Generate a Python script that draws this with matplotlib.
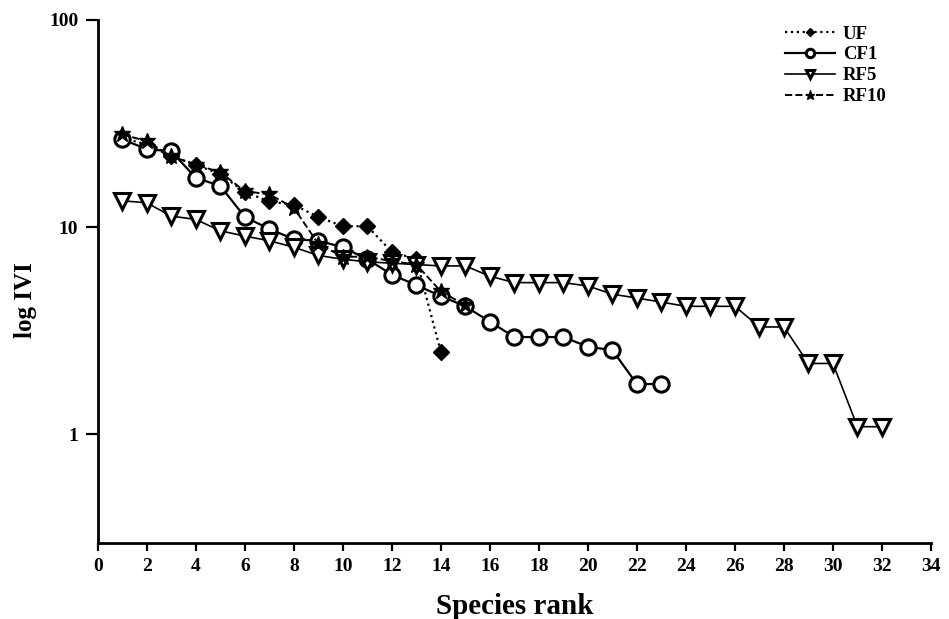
import numpy as np
import matplotlib
matplotlib.use('Agg')
import matplotlib.pyplot as plt
from matplotlib.ticker import FixedLocator, NullLocator

# ── datos ──
rank_uf = [1, 2, 3, 4, 5, 6, 7, 8, 9, 10, 11, 12, 13, 14]
ivi_uf = [27, 25, 22, 20, 18, 14.8, 13.3, 12.8, 11.2, 10.1, 10.1, 7.6, 7.0, 2.5]

rank_cf1 = list(range(1, 24))
ivi_cf1 = [26.5, 23.8, 23.2, 17.3, 15.8, 11.2, 9.8, 8.75, 8.6, 8.0, 7.0, 5.9,
           5.25, 4.65, 4.15, 3.5, 2.95, 2.95, 2.95, 2.65, 2.55, 1.75, 1.75]

rank_rf5 = list(range(1, 33))
ivi_rf5 = [13.4, 13.1, 11.3, 10.9, 9.6, 9.05, 8.6, 8.0, 7.3, 7.0, 6.8, 6.7,
           6.6, 6.5, 6.5, 5.8, 5.4, 5.4, 5.4, 5.2, 4.75, 4.55, 4.35, 4.15,
           4.15, 4.15, 3.3, 3.3, 2.2, 2.2, 1.09, 1.09]

rank_rf10 = list(range(1, 16))
ivi_rf10 = [28, 26, 22, 20, 18.4, 14.9, 14.4, 12.4, 8.3, 7.2, 7.2, 6.85,
            6.6, 4.9, 4.2]

x_ticks = list(range(0, 35, 2))
y_ticks = [1, 10, 100]

plt.rcParams['font.family'] = ['Liberation Serif', 'DejaVu Serif']
plt.rcParams['font.weight'] = 'bold'

fig = plt.figure(figsize=(9.49, 6.19), dpi=100)
ax = fig.add_axes([0.103, 0.123, 0.878, 0.845])

ax.plot(rank_uf, ivi_uf, color='black', linestyle=':', linewidth=1.6,
        marker='D', markersize=8, markerfacecolor='black', label='UF')
ax.plot(rank_cf1, ivi_cf1, color='black', linestyle='-', linewidth=1.6,
        marker='o', markersize=11, markerfacecolor='white',
        markeredgewidth=2.2, label='CF1')
ax.plot(rank_rf5, ivi_rf5, color='black', linestyle='-', linewidth=1.2,
        marker='v', markersize=11.5, markerfacecolor='white',
        markeredgewidth=2.2, label='RF5')
ax.plot(rank_rf10, ivi_rf10, color='black', linestyle='--', linewidth=1.4,
        marker='*', markersize=12, markerfacecolor='black', label='RF10')

ax.set_yscale('log')
ax.set_ylim(0.3, 100)
ax.set_xlim(0, 34)
ax.xaxis.set_major_locator(FixedLocator(x_ticks))
ax.yaxis.set_major_locator(FixedLocator(y_ticks))
ax.yaxis.set_minor_locator(NullLocator())
ax.set_yticklabels([str(v) for v in y_ticks])

for s in ['top', 'right']:
    ax.spines[s].set_visible(False)
for s in ['left', 'bottom']:
    ax.spines[s].set_linewidth(2)
ax.tick_params(axis='x', direction='out', length=6, width=1.6,
               labelsize=14, pad=5)
ax.tick_params(axis='y', direction='out', length=9, width=1.6,
               labelsize=14, pad=5)
for lbl in ax.get_xticklabels() + ax.get_yticklabels():
    lbl.set_fontweight('bold')

ax.set_xlabel('Species rank', fontsize=21, fontweight='bold', va='top')
ax.xaxis.set_label_coords(0.5, -0.095)
ax.set_ylabel('log IVI', fontsize=18, fontweight='bold')
ax.yaxis.set_label_coords(-0.073, 0.465)

leg = fig.legend(loc='upper left', bbox_to_anchor=(0.827, 0.959),
                 frameon=False, fontsize=13.5, markerscale=0.55,
                 handlelength=2.7, handletextpad=0.4, labelspacing=0.2,
                 borderpad=0, borderaxespad=0)
for t in leg.get_texts():
    t.set_fontweight('bold')

fig.savefig('out.png', dpi=100)
